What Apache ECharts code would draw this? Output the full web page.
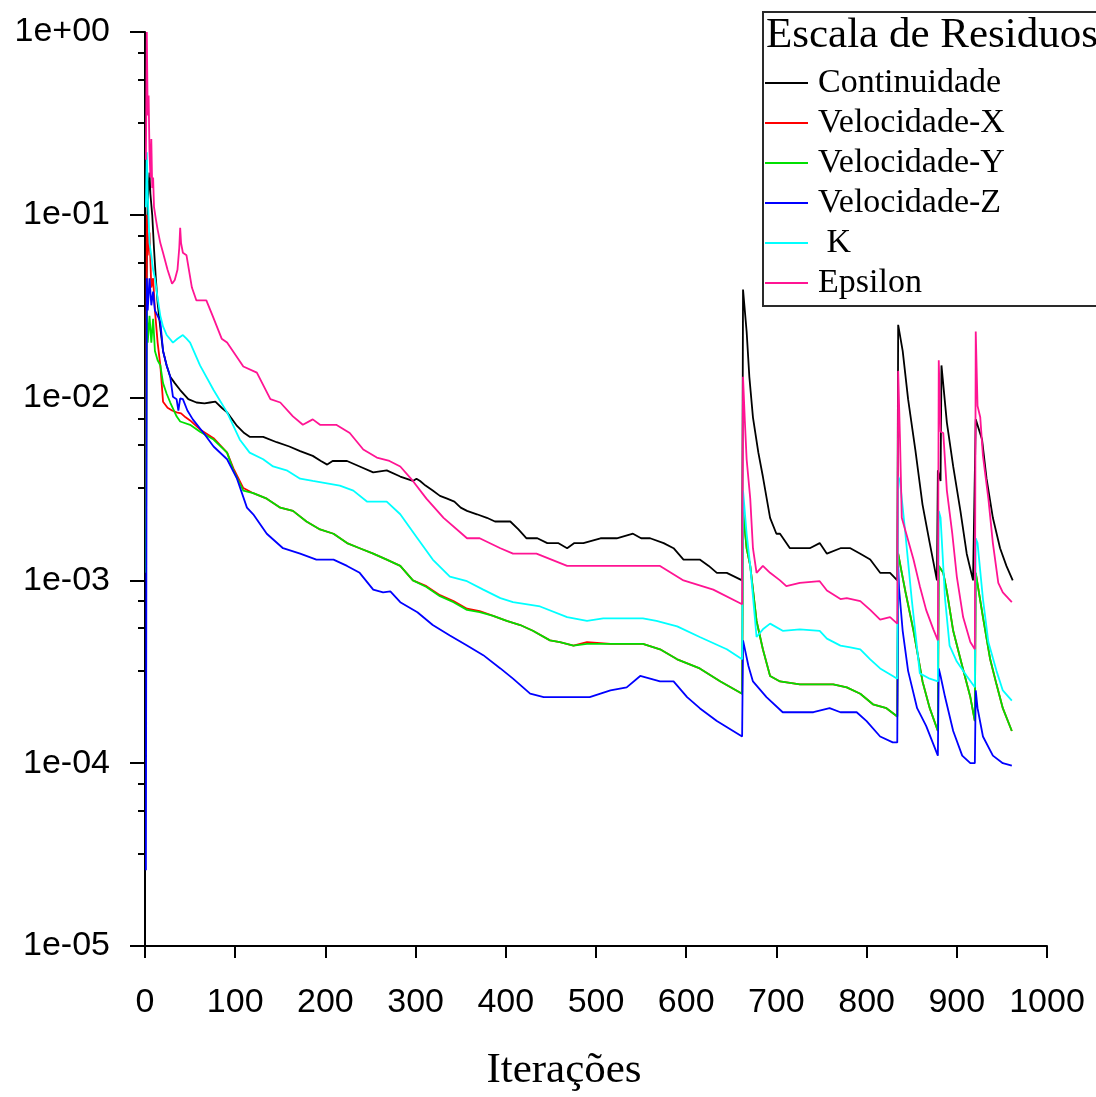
<!DOCTYPE html>
<html>
<head>
<meta charset="utf-8">
<title>Escala de Residuos</title>
<script src="https://cdn.jsdelivr.net/npm/echarts@6/dist/echarts.min.js"></script>
<style>
  html, body { margin: 0; padding: 0; background: #ffffff; }
  #chart { width: 1096px; height: 1097px; }
</style>
</head>
<body>
<div id="chart"></div>
<script>
// Residual history of the solver: [iteration, residual]
const continuidade = [
  [1, 0.011], [2, 0.06], [3, 0.12], [5, 0.17], [6, 0.13], [8, 0.1], [10, 0.065], [12, 0.045],
  [14, 0.033], [17, 0.024], [20, 0.018], [24, 0.015], [28, 0.013], [33, 0.012], [39, 0.011],
  [48, 0.0098], [57, 0.0094], [66, 0.0093], [72, 0.0094], [78, 0.0095], [85, 0.0088], [91, 0.0083],
  [102, 0.007], [110, 0.0064], [116, 0.0061], [131, 0.0061], [146, 0.0057], [160, 0.0054], [172, 0.0051],
  [186, 0.0048], [195, 0.0045], [202, 0.0043], [208, 0.0045], [224, 0.0045], [238, 0.0042], [253, 0.0039],
  [268, 0.004], [283, 0.0037], [297, 0.0035], [301, 0.0036], [305, 0.0035], [311, 0.0033], [319, 0.0031],
  [327, 0.0029], [335, 0.0028], [343, 0.0027], [350, 0.0025], [357, 0.0024], [368, 0.0023], [379, 0.0022],
  [388, 0.0021], [394, 0.0021], [405, 0.0021], [414, 0.0019], [423, 0.0017], [435, 0.0017], [446, 0.0016],
  [458, 0.0016], [468, 0.0015], [476, 0.0016], [486, 0.0016], [505, 0.0017], [523, 0.0017], [541, 0.0018],
  [550, 0.0017], [560, 0.0017], [575, 0.0016], [586, 0.0015], [597, 0.0013], [615, 0.0013], [625, 0.0012],
  [634, 0.0011], [645, 0.0011], [662, 0.001], [663, 0.039],
  [667, 0.023], [670, 0.013], [674, 0.0078], [680, 0.005], [685, 0.0037], [693, 0.0022], [700, 0.0018], [704, 0.0018],
  [715, 0.0015], [730, 0.0015], [737, 0.0015], [748, 0.0016], [756, 0.0014], [771, 0.0015],
  [782, 0.0015], [793, 0.0014], [804, 0.0013], [815, 0.0011], [826, 0.0011], [834, 0.001],
  [835, 0.025], [840, 0.018], [846, 0.0098], [854, 0.0052], [862, 0.0026], [870, 0.0016],
  [878, 0.001], [879, 0.004], [882, 0.0035], [883, 0.015], [889, 0.0073], [896, 0.0042],
  [904, 0.0024], [911, 0.0014], [918, 0.001], [920, 0.001], [921, 0.0076], [928, 0.0059],
  [933, 0.0036], [940, 0.0022], [948, 0.0015], [955, 0.0012], [962, 0.001]
];

const velocidadeX = [
  [1, 0.0019], [2, 0.1], [3, 0.06], [5, 0.08], [7, 0.04], [9, 0.045], [11, 0.03], [14, 0.02],
  [17, 0.015], [20, 0.0095], [25, 0.0088], [30, 0.0085], [35, 0.0083], [40, 0.0082], [45, 0.0078],
  [50, 0.0075], [61, 0.0067], [76, 0.006], [91, 0.005], [98, 0.0041], [109, 0.0032], [120, 0.003],
  [135, 0.0028], [150, 0.0025], [164, 0.0024], [179, 0.0021], [194, 0.0019], [209, 0.0018],
  [224, 0.0016], [238, 0.0015], [253, 0.0014], [268, 0.0013], [283, 0.0012], [297, 0.001],
  [312, 0.00093], [327, 0.00083], [342, 0.00077], [357, 0.0007], [371, 0.00068], [386, 0.00064],
  [401, 0.0006], [416, 0.00057], [430, 0.00053], [449, 0.00047], [460, 0.00046], [475, 0.00044],
  [490, 0.00046], [516, 0.00045], [552, 0.00045], [571, 0.00042], [590, 0.00037], [615, 0.00033],
  [638, 0.00028], [662, 0.00024], [663, 0.0024], [667, 0.0015], [671, 0.0012], [678, 0.0006],
  [685, 0.00042], [693, 0.0003], [704, 0.00028], [726, 0.00027], [748, 0.00027], [763, 0.00027],
  [778, 0.00026], [793, 0.00024], [807, 0.00021], [822, 0.0002], [834, 0.00018], [835, 0.0014],
  [839, 0.0011], [843, 0.00087], [852, 0.00053], [862, 0.00028], [870, 0.0002], [879, 0.00015],
  [880, 0.0012], [885, 0.0011], [889, 0.00087], [896, 0.00053], [906, 0.00034], [915, 0.00023],
  [920, 0.00017], [921, 0.0011], [929, 0.00063], [937, 0.00037], [944, 0.00027], [951, 0.0002],
  [961, 0.00015]
];

const velocidadeY = [
  [1, 0.0011], [2, 0.03], [3, 0.02], [5, 0.028], [7, 0.02], [9, 0.027], [11, 0.018], [14, 0.016],
  [17, 0.015], [20, 0.012], [24, 0.0105], [28, 0.0094], [35, 0.0079], [39, 0.0074], [50, 0.0071],
  [61, 0.0065], [76, 0.0059], [91, 0.005], [98, 0.004], [109, 0.0031], [120, 0.003], [135, 0.0028],
  [150, 0.0025], [164, 0.0024], [179, 0.0021], [194, 0.0019], [209, 0.0018], [224, 0.0016],
  [238, 0.0015], [253, 0.0014], [268, 0.0013], [283, 0.0012], [297, 0.001], [312, 0.00092],
  [327, 0.00082], [342, 0.00076], [357, 0.00069], [371, 0.00067], [386, 0.00064], [401, 0.0006],
  [416, 0.00057], [430, 0.00053], [449, 0.00047], [460, 0.00046], [475, 0.00044], [490, 0.00045],
  [516, 0.00045], [552, 0.00045], [571, 0.00042], [590, 0.00037], [615, 0.00033], [638, 0.00028],
  [662, 0.00024], [663, 0.0024], [667, 0.0015], [671, 0.0012], [678, 0.0006], [685, 0.00042],
  [693, 0.0003], [704, 0.00028], [726, 0.00027], [748, 0.00027], [763, 0.00027], [778, 0.00026],
  [793, 0.00024], [807, 0.00021], [822, 0.0002], [834, 0.00018], [835, 0.0014], [839, 0.0011],
  [843, 0.00087], [852, 0.00053], [862, 0.00028], [870, 0.0002], [879, 0.00015], [880, 0.0012],
  [885, 0.0011], [889, 0.00087], [896, 0.00053], [906, 0.00034], [915, 0.00023], [920, 0.00017],
  [921, 0.0011], [929, 0.00063], [937, 0.00037], [944, 0.00027], [951, 0.0002], [961, 0.00015]
];

const velocidadeZ = [
  [1, 2.6e-5], [2, 0.045], [3, 0.03], [5, 0.045], [7, 0.032], [9, 0.038], [11, 0.03], [14, 0.028],
  [17, 0.026], [20, 0.018], [24, 0.015], [28, 0.013], [31, 0.0101], [35, 0.0098], [37, 0.0085],
  [39, 0.0099], [42, 0.0098], [47, 0.0085], [53, 0.0076], [65, 0.0064], [76, 0.0054], [91, 0.0046],
  [102, 0.0036], [113, 0.0025], [120, 0.0023], [135, 0.0018], [153, 0.0015], [172, 0.0014],
  [190, 0.0013], [209, 0.0013], [224, 0.0012], [238, 0.0011], [253, 0.00089], [264, 0.00086],
  [272, 0.00087], [283, 0.00076], [302, 0.00067], [319, 0.00057], [338, 0.0005], [357, 0.00044],
  [375, 0.00039], [394, 0.00033], [408, 0.00029], [427, 0.00024], [442, 0.00023], [468, 0.00023],
  [493, 0.00023], [516, 0.00025], [534, 0.00026], [549, 0.0003], [571, 0.00028], [586, 0.00028],
  [601, 0.00023], [615, 0.0002], [634, 0.00017], [662, 0.00014], [663, 0.00047], [669, 0.00034],
  [674, 0.00028], [689, 0.00023], [707, 0.00019], [726, 0.00019], [741, 0.00019], [759, 0.0002],
  [771, 0.00019], [789, 0.00019], [800, 0.00017], [815, 0.00014], [829, 0.00013], [834, 0.00013],
  [835, 0.0012], [836, 0.0009], [840, 0.00053], [846, 0.00032], [856, 0.0002], [866, 0.00016],
  [879, 0.00011], [880, 0.00033], [882, 0.0003], [887, 0.00023], [896, 0.00015], [906, 0.00011],
  [915, 0.0001], [920, 0.0001], [921, 0.00025], [923, 0.0002], [929, 0.00014], [940, 0.00011],
  [951, 0.0001], [961, 0.000097]
];

const kResidual = [
  [1, 0.11], [2, 0.22], [3, 0.13], [5, 0.07], [7, 0.06], [9, 0.05], [11, 0.045], [14, 0.035],
  [17, 0.028], [20, 0.0245], [24, 0.022], [31, 0.02], [36, 0.021], [42, 0.022], [46, 0.021],
  [50, 0.02], [61, 0.015], [76, 0.011], [91, 0.0083], [105, 0.0059], [116, 0.005], [131, 0.0046],
  [142, 0.0042], [157, 0.004], [172, 0.0036], [186, 0.0035], [216, 0.0033], [231, 0.0031],
  [246, 0.0027], [268, 0.0027], [283, 0.0023], [302, 0.0017], [319, 0.0013], [338, 0.00105],
  [357, 0.00099], [375, 0.00089], [394, 0.0008], [408, 0.00076], [438, 0.00072], [468, 0.00063],
  [490, 0.0006], [508, 0.00062], [552, 0.00062], [567, 0.0006], [590, 0.00056], [615, 0.00049],
  [645, 0.00042], [662, 0.00037], [663, 0.0031], [667, 0.0018], [671, 0.0012], [678, 0.00049],
  [685, 0.00054], [693, 0.00058], [707, 0.00053], [726, 0.00054], [748, 0.00053], [756, 0.00048],
  [771, 0.00044], [782, 0.00043], [793, 0.00042], [804, 0.00037], [815, 0.00033], [829, 0.0003],
  [834, 0.00029], [835, 0.0037], [837, 0.0035], [843, 0.0018], [850, 0.00079], [859, 0.00031],
  [870, 0.00029], [879, 0.00028], [880, 0.0024], [882, 0.0022], [887, 0.00079], [892, 0.00044],
  [900, 0.00036], [911, 0.0003], [920, 0.00026], [921, 0.0017], [923, 0.0016], [929, 0.00079],
  [935, 0.00046], [944, 0.00032], [951, 0.00025], [961, 0.00022]
];

const epsilon = [
  [1, 0.2], [2, 1.0], [3, 0.35], [4, 0.45], [5, 0.22], [6, 0.16], [7, 0.26], [8, 0.14], [9, 0.16],
  [10, 0.11], [12, 0.095], [14, 0.083], [17, 0.07], [20, 0.062], [25, 0.05], [30, 0.042],
  [33, 0.044], [36, 0.05], [38, 0.066], [39, 0.085], [40, 0.07], [42, 0.062], [46, 0.06],
  [52, 0.04], [57, 0.034], [68, 0.034], [75, 0.028], [85, 0.021], [91, 0.02], [109, 0.0148],
  [124, 0.0137], [139, 0.0098], [150, 0.0094], [164, 0.0079], [175, 0.0071], [186, 0.0076],
  [194, 0.0071], [212, 0.0071], [227, 0.0064], [242, 0.0052], [257, 0.0047], [271, 0.0045],
  [283, 0.0042], [297, 0.0035], [312, 0.0028], [331, 0.0022], [357, 0.0017], [371, 0.0017],
  [394, 0.0015], [408, 0.0014], [434, 0.0014], [468, 0.0012], [493, 0.0012], [534, 0.0012],
  [571, 0.0012], [597, 0.001], [630, 0.00089], [662, 0.00074], [663, 0.013], [665, 0.0075],
  [667, 0.0046], [671, 0.0028], [674, 0.0015], [678, 0.0011], [685, 0.0012], [693, 0.0011],
  [704, 0.001], [711, 0.00093], [726, 0.00097], [748, 0.00099], [756, 0.00088], [771, 0.00079],
  [778, 0.0008], [793, 0.00077], [804, 0.00069], [815, 0.00061], [826, 0.00063], [834, 0.00058],
  [835, 0.014], [837, 0.006], [839, 0.0022], [844, 0.0018], [852, 0.0013], [859, 0.00093],
  [866, 0.00069], [874, 0.00054], [879, 0.00047], [880, 0.016], [882, 0.0065], [885, 0.0064],
  [889, 0.0031], [895, 0.0018], [900, 0.00105], [907, 0.00063], [915, 0.00046], [920, 0.00042],
  [921, 0.023], [923, 0.009], [926, 0.0078], [929, 0.0048], [935, 0.0028], [940, 0.0016],
  [946, 0.00097], [951, 0.00086], [961, 0.00076]
];

// Axis ticks
const xTicks = [0, 100, 200, 300, 400, 500, 600, 700, 800, 900, 1000];
const yTicks = [1e-5, 1e-4, 1e-3, 1e-2, 1e-1, 1];
const yMinorSteps = [0.77, 0.55, 0.32];   // minor marks inside each decade

const seriesNames = ['Continuidade', 'Velocidade-X', 'Velocidade-Y', 'Velocidade-Z', 'K', 'Epsilon'];
const seriesColors = ['#000000', '#ff0000', '#00e000', '#0000ff', '#00ffff', '#ff1493'];
const seriesData = [continuidade, velocidadeX, velocidadeY, velocidadeZ, kResidual, epsilon];

const yMinorTicks = [];
yTicks.slice(1).forEach(function (d) {
  yMinorSteps.forEach(function (s) { yMinorTicks.push(d * s); });
});

function expLabel(v) {
  const e = Math.round(Math.log10(v));
  return '1e' + (e >= 0 ? '+' : '-') + String(Math.abs(e)).padStart(2, '0');
}

const SANS = "'Liberation Sans', Arial, sans-serif";
const SERIF = "'Liberation Serif', 'Times New Roman', serif";
const axisColor = '#000000';

const chart = echarts.init(document.getElementById('chart'), null, { renderer: 'canvas' });

chart.setOption({
  backgroundColor: '#ffffff',
  animation: false,
  grid: { left: 145, right: 49, top: 32, bottom: 150, containLabel: false },
  xAxis: {
    type: 'value',
    min: 0, max: 1000, interval: 100,
    name: 'Iterações',
    nameLocation: 'middle',
    nameGap: 103,
    nameTextStyle: { fontFamily: SERIF, fontSize: 43, color: '#000', padding: [0, 64, 0, 0] },
    axisLine: { show: true, onZero: false, lineStyle: { color: axisColor, width: 2 } },
    axisTick: { show: true, length: 12, lineStyle: { color: axisColor, width: 2 } },
    axisLabel: {
      fontFamily: SANS, fontSize: 34, color: '#000', margin: 40,
      customValues: xTicks, showMinLabel: true, showMaxLabel: true,
      formatter: function (v) { return String(v); }
    },
    splitLine: { show: false }
  },
  yAxis: [
    {
      type: 'log', logBase: 10, min: 1e-5, max: 1,
      position: 'left',
      axisLine: { show: true, onZero: false, lineStyle: { color: axisColor, width: 2 } },
      axisTick: { show: true, length: 15, customValues: yTicks, lineStyle: { color: axisColor, width: 2 } },
      axisLabel: {
        fontFamily: SANS, fontSize: 34, color: '#000', margin: 35,
        padding: [9, 0, 0, 0],
        customValues: yTicks, formatter: expLabel
      },
      splitLine: { show: false }
    },
    {
      type: 'log', logBase: 10, min: 1e-5, max: 1,
      position: 'left',
      axisLine: { show: false },
      axisTick: { show: true, length: 7, customValues: yMinorTicks, lineStyle: { color: axisColor, width: 2 } },
      axisLabel: { show: false },
      splitLine: { show: false }
    }
  ],
  legend: {
    show: true,
    orient: 'vertical',
    left: 765,
    top: 66,
    selectedMode: false,
    icon: 'rect',
    itemWidth: 43,
    itemHeight: 2,
    itemGap: 6,
    padding: 0,
    data: seriesNames,
    formatter: function (name) { return name === 'K' ? ' K' : name; },
    textStyle: {
      fontFamily: SERIF, fontSize: 34, color: '#000', lineHeight: 34,
      padding: [0, 0, 0, 5]
    },
    z: 20
  },
  graphic: [
    {
      type: 'rect', z: 10,
      shape: { x: 763, y: 12, width: 360, height: 294 },
      style: { fill: '#ffffff', stroke: '#2a2a2a', lineWidth: 2 }
    },
    {
      type: 'text', z: 11,
      x: 766, y: 36,
      style: {
        text: 'Escala de Residuos', fontFamily: SERIF, fontSize: 43,
        fill: '#000', align: 'left', verticalAlign: 'middle'
      }
    }
  ],
  series: seriesNames.map(function (name, i) {
    return {
      name: name,
      type: 'line',
      xAxisIndex: 0,
      yAxisIndex: 0,
      data: seriesData[i],
      showSymbol: false,
      symbol: 'none',
      color: seriesColors[i],
      lineStyle: { color: seriesColors[i], width: 1.8 },
      z: 2 + i
    };
  })
});
</script>
</body>
</html>
